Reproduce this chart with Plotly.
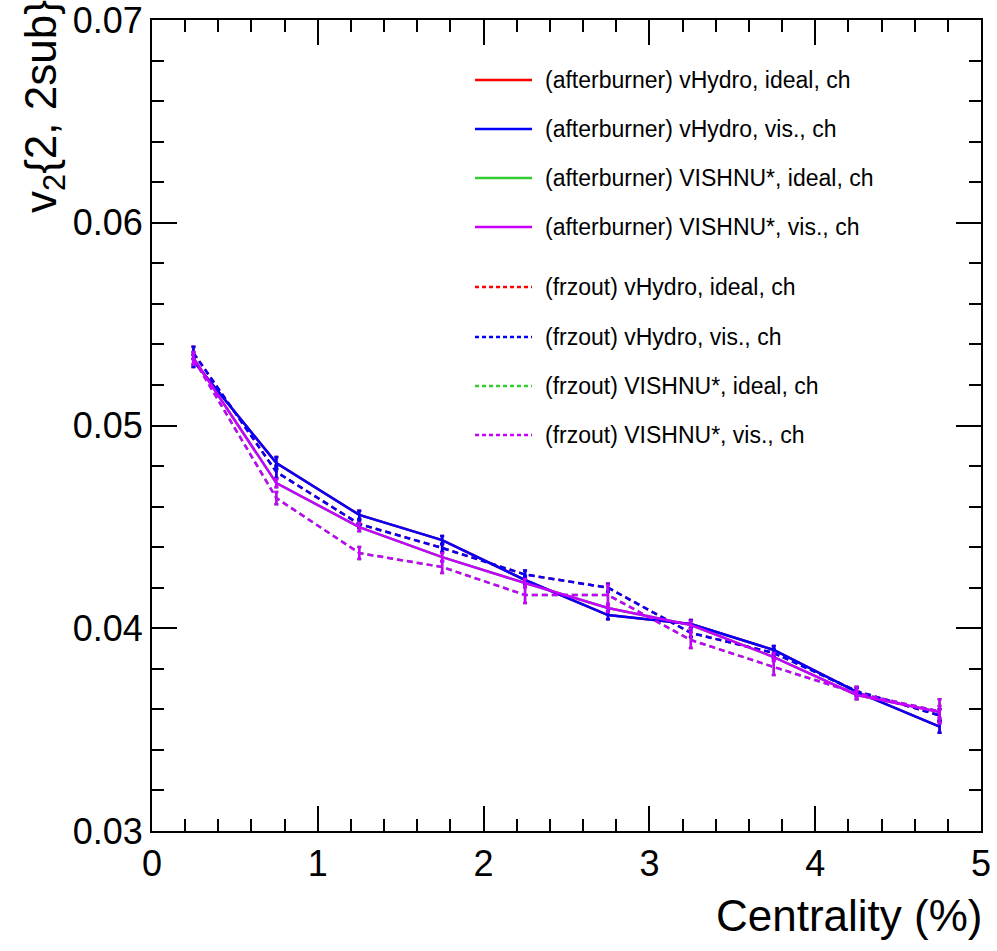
import plotly.graph_objects as go

# Centrality bin centres (%)
centrality = [0.25, 0.75, 1.25, 1.75, 2.25, 2.75, 3.25, 3.75, 4.25, 4.75]

# v2{2, 2sub} — afterburner results
ab_vhydro_ideal = [0.05318, 0.04815, 0.04559, 0.04435, 0.04238, 0.04065, 0.04021, 0.03893, 0.03686, 0.03515]
ab_vhydro_vis = [0.05318, 0.04815, 0.04559, 0.04435, 0.04238, 0.04065, 0.04021, 0.03893, 0.03686, 0.03515]
ab_vishnu_ideal = [0.05333, 0.04716, 0.04499, 0.04351, 0.04223, 0.04100, 0.04016, 0.03858, 0.03671, 0.03587]
ab_vishnu_vis = [0.05333, 0.04716, 0.04499, 0.04351, 0.04223, 0.04100, 0.04016, 0.03858, 0.03671, 0.03587]

# v2{2, 2sub} — freeze-out results
fz_vhydro_ideal = [0.05358, 0.04771, 0.04514, 0.04396, 0.04265, 0.04200, 0.03977, 0.03878, 0.03690, 0.03570]
fz_vhydro_vis = [0.05358, 0.04771, 0.04514, 0.04396, 0.04265, 0.04200, 0.03977, 0.03878, 0.03690, 0.03570]
fz_vishnu_ideal = [0.05330, 0.04642, 0.04371, 0.04302, 0.04164, 0.04164, 0.03942, 0.03809, 0.03680, 0.03590]
fz_vishnu_vis = [0.05330, 0.04642, 0.04371, 0.04302, 0.04164, 0.04164, 0.03942, 0.03809, 0.03680, 0.03590]

# Statistical uncertainties
err_ab_vhydro = [0.0003, 0.0003, 0.0002, 0.0002, 0.0002, 0.0002, 0.0002, 0.0002, 0.0002, 0.0003]
err_ab_vishnu = [0.0003, 0.0002, 0.0002, 0.0002, 0.0002, 0.0002, 0.0002, 0.0002, 0.0002, 0.0003]
err_fz_vhydro = [0.0003, 0.0003, 0.0002, 0.0002, 0.0002, 0.0002, 0.0002, 0.0002, 0.0002, 0.0003]
err_fz_vishnu = [0.0003, 0.0003, 0.0003, 0.0003, 0.0004, 0.0005, 0.0004, 0.0004, 0.0003, 0.0006]

# Axis tick labels
x_ticks = [0, 1, 2, 3, 4, 5]
y_ticks = [0.03, 0.04, 0.05, 0.06, 0.07]
y_tick_text = ["0.03", "0.04", "0.05", "0.06", "0.07"]

legend_labels = [
    "(afterburner) vHydro, ideal, ch",
    "(afterburner) vHydro, vis., ch",
    "(afterburner) VISHNU*, ideal, ch",
    "(afterburner) VISHNU*, vis., ch",
    "(frzout) vHydro, ideal, ch",
    "(frzout) vHydro, vis., ch",
    "(frzout) VISHNU*, ideal, ch",
    "(frzout) VISHNU*, vis., ch",
]

RED = "#ff0000"
BLUE = "#0000ff"
GREEN = "#33cc33"
VIOLET = "#c800ff"
DASH = "6px,4px"
FONT = "Liberation Sans, Arial, sans-serif"

series = [
    (legend_labels[0], ab_vhydro_ideal, err_ab_vhydro, RED, "solid"),
    (legend_labels[2], ab_vishnu_ideal, err_ab_vishnu, GREEN, "solid"),
    (legend_labels[4], fz_vhydro_ideal, err_fz_vhydro, RED, DASH),
    (legend_labels[6], fz_vishnu_ideal, err_fz_vishnu, GREEN, DASH),
    (legend_labels[1], ab_vhydro_vis, err_ab_vhydro, BLUE, "solid"),
    (legend_labels[5], fz_vhydro_vis, err_fz_vhydro, BLUE, DASH),
    (legend_labels[3], ab_vishnu_vis, err_ab_vishnu, VIOLET, "solid"),
    (legend_labels[7], fz_vishnu_vis, err_fz_vishnu, VIOLET, DASH),
]

fig = go.Figure()
for name, vals, errs, color, dash in series:
    fig.add_trace(go.Scatter(
        x=centrality, y=vals, name=name, mode="lines",
        line=dict(color=color, width=2.5, dash=dash),
        error_y=dict(type="data", array=errs, visible=True,
                     color=color, thickness=2.5, width=2),
        showlegend=False,
    ))

# Hand-placed legend block (line sample + label per entry)
legend_colors = [RED, BLUE, GREEN, VIOLET, RED, BLUE, GREEN, VIOLET]
legend_dashes = ["solid"] * 4 + ["dash"] * 4
legend_rows_px = [80, 129, 178, 227, 287, 337, 386, 435]
plot_left, plot_w, plot_top, plot_h = 152, 829, 20, 811
shapes = []
annotations = []
for label, color, dash, py in zip(legend_labels, legend_colors, legend_dashes, legend_rows_px):
    yp = (plot_top + plot_h - py) / plot_h
    shapes.append(dict(
        type="line", xref="paper", yref="paper",
        x0=(475 - plot_left) / plot_w, x1=(532 - plot_left) / plot_w, y0=yp, y1=yp,
        line=dict(color=color, width=2.5, dash="solid" if dash == "solid" else "4px,3px"),
    ))
    annotations.append(dict(
        xref="paper", yref="paper", x=(543 - plot_left) / plot_w, y=yp,
        xanchor="left", yanchor="middle", text=label, showarrow=False,
        font=dict(family=FONT, size=23, color="black"),
    ))

annotations.append(dict(
    xref="paper", yref="paper", x=1, y=-0.1036, xanchor="right", yanchor="middle",
    xshift=4, text="Centrality (%)", showarrow=False,
    font=dict(family=FONT, size=44, color="black"),
))
annotations.append(dict(
    xref="paper", yref="paper", x=-0.131, y=1.027, xanchor="center", yanchor="top",
    text="v<sub>2</sub>{2, 2sub}", textangle=-90, showarrow=False,
    font=dict(family=FONT, size=44, color="black"),
))

axis_common = dict(
    showgrid=False, zeroline=False, showline=True, linecolor="black", linewidth=2,
    mirror="ticks", ticks="inside", ticklen=25, tickwidth=2, tickcolor="black",
    tickfont=dict(family=FONT, size=36, color="black"), ticklabeloverflow="allow",
    automargin=False,
)

fig.update_layout(
    width=997, height=951,
    margin=dict(l=152, r=16, t=20, b=120, autoexpand=False),
    paper_bgcolor="white", plot_bgcolor="white",
    xaxis=dict(range=[0, 5], tickmode="array", tickvals=x_ticks,
               ticktext=[str(v) for v in x_ticks],
               minor=dict(dtick=0.2, tick0=0, ticks="inside", ticklen=12, tickwidth=2,
                          tickcolor="black", showgrid=False),
               **axis_common),
    yaxis=dict(range=[0.03, 0.0700001], tickmode="array", tickvals=y_ticks, ticktext=y_tick_text,
               minor=dict(dtick=0.002, tick0=0.03, ticks="inside", ticklen=12, tickwidth=2,
                          tickcolor="black", showgrid=False),
               **axis_common),
    shapes=shapes,
    annotations=annotations,
    showlegend=False,
)

fig.write_html("out.html")
